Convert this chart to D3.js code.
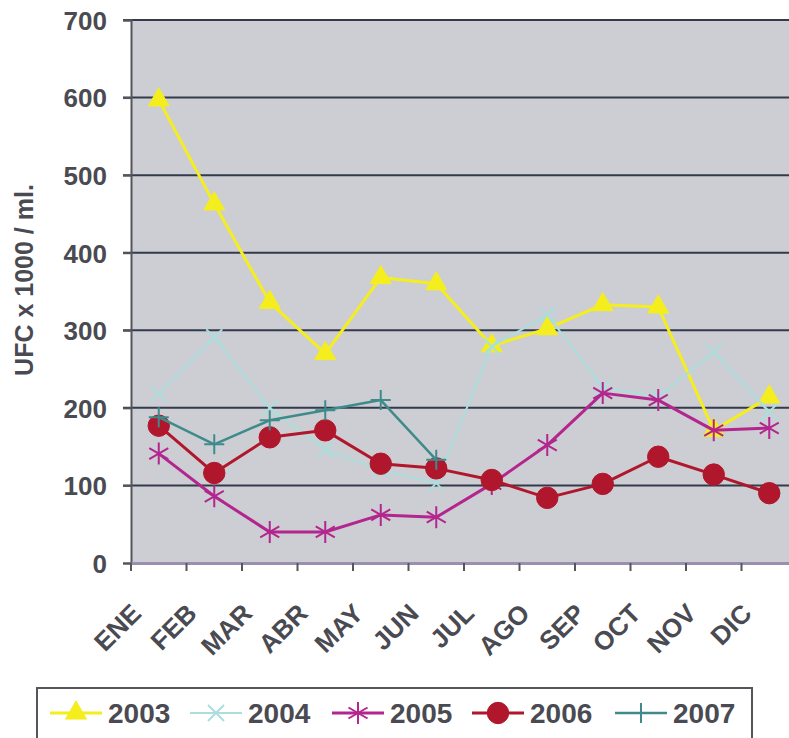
<!DOCTYPE html>
<html>
<head>
<meta charset="utf-8">
<script src="https://cdn.jsdelivr.net/npm/d3@7"></script>
<style>
  body { margin: 0; background: #fff; }
  svg { display: block; font-family: "Liberation Sans", Arial, sans-serif; }
</style>
</head>
<body>
<div id="chart"></div>
<script>
// datos
const months = ["ENE", "FEB", "MAR", "ABR", "MAY", "JUN", "JUL", "AGO", "SEP", "OCT", "NOV", "DIC"];
const yTicks = [0, 100, 200, 300, 400, 500, 600, 700];
const v2003 = [597, 463, 336, 270, 368, 360, 280, 302, 333, 330, 171, 214];
const v2004 = [218, 291, 200, 146, 120, 103, 279, 320, 227, 214, 272, 195];
const v2005 = [141, 86, 40, 40, 62, 59, 102, 152, 219, 210, 171, 174];
const v2006 = [177, 116, 162, 171, 128, 122, 107, 84, 102, 137, 114, 90];
const v2007 = [188, 153, 184, 197, 210, 133, null, null, null, null, null, null];

const series = [
  { name: "2003", values: v2003, color: "#f5ee1e", width: 3, marker: "triangle" },
  { name: "2004", values: v2004, color: "#abdedd", width: 2, marker: "x" },
  { name: "2005", values: v2005, color: "#b3268e", width: 3, marker: "star" },
  { name: "2006", values: v2006, color: "#b0172c", width: 3, marker: "circle" },
  { name: "2007", values: v2007, color: "#3f8b8c", width: 2.5, marker: "plus" }
];

const W = 789, H = 738;
const plot = { left: 131, right: 797, top: 20, bottom: 563 };
const textCol = "#4a4a52";

const svg = d3.select("#chart").append("svg")
  .attr("width", W).attr("height", H);

const x = d3.scaleBand().domain(months).range([plot.left, plot.right]);
const y = d3.scaleLinear().domain([0, 700]).range([plot.bottom, plot.top]);

// fondo gris
svg.append("rect")
  .attr("x", plot.left).attr("y", plot.top)
  .attr("width", plot.right - plot.left).attr("height", plot.bottom - plot.top)
  .attr("fill", "#cdced3");

// rejilla horizontal
svg.append("g").selectAll("line")
  .data(yTicks.filter(d => d > 0))
  .join("line")
  .attr("x1", plot.left - 8).attr("x2", plot.right)
  .attr("y1", d => y(d)).attr("y2", d => y(d))
  .attr("stroke", "#333a4c").attr("stroke-width", 2);

// eje Y
const yAxis = svg.append("g")
  .attr("transform", `translate(${plot.left},0)`)
  .call(d3.axisLeft(y).tickValues(yTicks).tickSize(8).tickPadding(16));
yAxis.select(".domain").attr("stroke", "#55555d").attr("stroke-width", 2);
yAxis.selectAll(".tick line").attr("stroke", "#55555d").attr("stroke-width", 2);
yAxis.selectAll("text")
  .attr("fill", textCol).attr("font-size", 26).attr("font-weight", "bold")
  .attr("dy", "0.36em");

// eje X
const xAxis = svg.append("g")
  .attr("transform", `translate(0,${plot.bottom})`)
  .call(d3.axisBottom(x).tickSize(0).tickFormat(""));
xAxis.select(".domain").attr("stroke", "#9a8fae").attr("stroke-width", 3);

svg.append("g").selectAll("line")
  .data(months)
  .join("line")
  .attr("x1", d => x(d)).attr("x2", d => x(d))
  .attr("y1", plot.bottom).attr("y2", plot.bottom + 8)
  .attr("stroke", "#55555d").attr("stroke-width", 2);

svg.append("g").selectAll("text")
  .data(months)
  .join("text")
  .attr("transform", d => `translate(${x(d) + x.bandwidth() / 2 - 16},${plot.bottom + 52}) rotate(-45)`)
  .attr("text-anchor", "end")
  .attr("fill", textCol).attr("font-size", 26).attr("font-weight", "bold")
  .text(d => d);

// título eje Y
svg.append("text")
  .attr("transform", `translate(33,280) rotate(-90)`)
  .attr("text-anchor", "middle")
  .attr("fill", textCol).attr("font-size", 25).attr("font-weight", "bold")
  .text("UFC x 1000 / ml.");

// marcadores
function markerPath(type) {
  if (type === "triangle") return d3.symbol(d3.symbolTriangle, 190)();
  if (type === "circle") return d3.symbol(d3.symbolCircle, 360)();
  if (type === "plus") return "M-10,0H10M0,-10V10";
  if (type === "x") return "M-8,-8L8,8M-8,8L8,-8";
  // asterisco de 6 brazos
  const r = 11;
  let p = "";
  for (let i = 0; i < 3; i++) {
    const a = Math.PI / 2 + i * Math.PI / 3;
    p += `M${-r * Math.cos(a)},${-r * Math.sin(a)}L${r * Math.cos(a)},${r * Math.sin(a)}`;
  }
  return p;
}

const line = d3.line()
  .defined(d => d != null)
  .x((d, i) => x(months[i]) + x.bandwidth() / 2)
  .y(d => y(d));

const clip = svg.append("defs").append("clipPath").attr("id", "clip");
clip.append("rect").attr("x", 0).attr("y", 0).attr("width", W).attr("height", plot.bottom + 2);

const lines = svg.append("g").attr("clip-path", "url(#clip)");

series.forEach(s => {
  const g = lines.append("g");
  g.append("path")
    .attr("d", line(s.values))
    .attr("fill", "none")
    .attr("stroke", s.color)
    .attr("stroke-width", s.width)
    .attr("stroke-linejoin", "round");
  const filled = s.marker === "triangle" || s.marker === "circle";
  g.selectAll("path.m")
    .data(s.values.map((v, i) => ({ v, i })).filter(d => d.v != null))
    .join("path")
    .attr("class", "m")
    .attr("transform", d => `translate(${x(months[d.i]) + x.bandwidth() / 2},${y(d.v)})`)
    .attr("d", markerPath(s.marker))
    .attr("fill", filled ? s.color : "none")
    .attr("stroke", s.color)
    .attr("stroke-width", filled ? 1 : 2);
});

// leyenda
const legend = svg.append("g");
legend.append("rect")
  .attr("x", 37).attr("y", 688).attr("width", 715).attr("height", 60)
  .attr("fill", "#fff").attr("stroke", "#55555d").attr("stroke-width", 2);

const legendX = [50, 190, 332, 472, 615];
series.forEach((s, k) => {
  const lx = legendX[k];
  const item = legend.append("g").attr("transform", `translate(${lx},713)`);
  item.append("line")
    .attr("x1", 0).attr("x2", 52).attr("y1", 0).attr("y2", 0)
    .attr("stroke", s.color).attr("stroke-width", s.width);
  const filled = s.marker === "triangle" || s.marker === "circle";
  item.append("path")
    .attr("transform", "translate(26,0)")
    .attr("d", markerPath(s.marker))
    .attr("fill", filled ? s.color : "none")
    .attr("stroke", s.color)
    .attr("stroke-width", filled ? 1 : 2);
  item.append("text")
    .attr("x", 58).attr("y", 10)
    .attr("fill", textCol).attr("font-size", 28).attr("font-weight", "bold")
    .text(s.name);
});
</script>
</body>
</html>
